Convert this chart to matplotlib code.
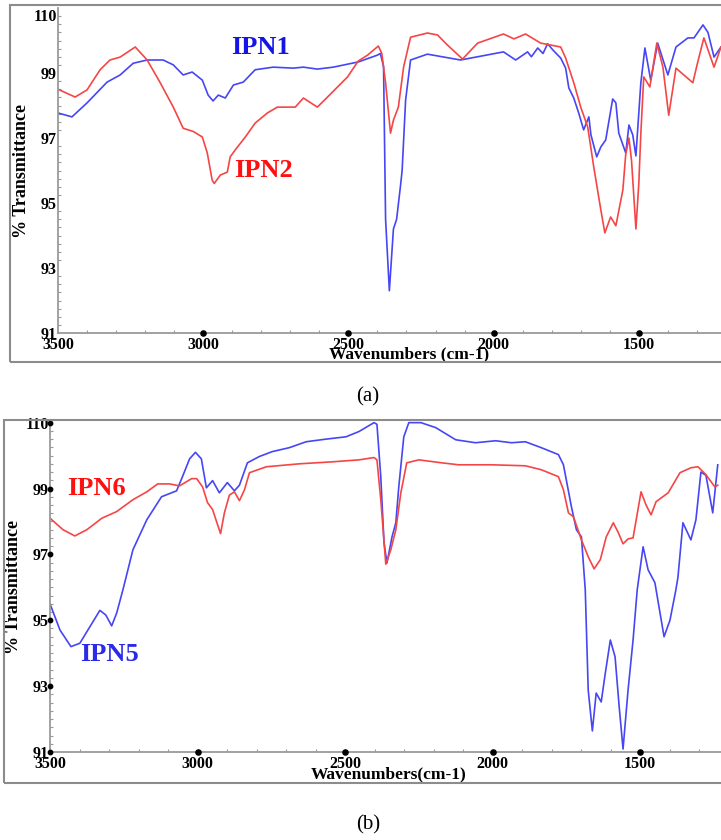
import numpy as np
import matplotlib.pyplot as plt
from matplotlib.patches import Rectangle

# panel (a): IPN1 (blue) and IPN2 (red)
wn_ipn1 = [3500, 3452, 3400, 3331, 3286, 3241, 3193, 3138, 3103, 3069, 3038, 3003, 2983, 2966,
           2948, 2924, 2896, 2862, 2821, 2759, 2690, 2655, 2607, 2552, 2466, 2400, 2390, 2379,
           2372, 2359, 2345, 2334, 2321, 2315, 2303, 2286, 2228, 2114, 1966, 1924, 1883, 1870,
           1848, 1830, 1814, 1795, 1769, 1752, 1741, 1724, 1707, 1690, 1672, 1665, 1645, 1631,
           1614, 1590, 1579, 1569, 1545, 1534, 1521, 1510, 1493, 1479, 1459, 1435, 1400, 1372,
           1331, 1310, 1279, 1262, 1241, 1217]
tr_ipn1 = [97.77, 97.65, 98.08, 98.72, 98.94, 99.3, 99.4, 99.4, 99.25, 98.94, 99.03, 98.78, 98.32, 98.14,
           98.32, 98.23, 98.63, 98.72, 99.1, 99.18, 99.15, 99.18, 99.12, 99.18, 99.34, 99.55, 99.6, 99.2,
           94.5, 92.3, 94.2, 94.5, 95.5, 96.0, 98.17, 99.4, 99.58, 99.4, 99.65, 99.4, 99.65, 99.5,
           99.77, 99.6, 99.9, 99.7, 99.46, 99.15, 98.54, 98.23, 97.77, 97.25, 97.65, 97.1, 96.42, 96.72,
           96.94, 98.2, 98.08, 97.15, 96.54, 97.4, 97.1, 96.45, 98.7, 99.77, 98.78, 99.92, 98.94, 99.8,
           100.08, 100.08, 100.48, 100.25, 99.49, 99.8]

wn_ipn2 = [3500, 3441, 3400, 3355, 3321, 3286, 3234, 3193, 3148, 3103, 3069, 3034, 3003, 2986,
           2969, 2962, 2941, 2917, 2907, 2890, 2855, 2821, 2779, 2745, 2683, 2655, 2607, 2572,
           2503, 2466, 2434, 2397, 2385, 2372, 2355, 2345, 2328, 2310, 2286, 2228, 2193, 2159,
           2107, 2055, 1966, 1930, 1890, 1838, 1769, 1752, 1724, 1700, 1676, 1655, 1631, 1617,
           1597, 1579, 1555, 1545, 1534, 1525, 1510, 1500, 1493, 1483, 1462, 1438, 1417, 1397,
           1372, 1345, 1314, 1297, 1276, 1241, 1217]
tr_ipn2 = [98.5, 98.26, 98.48, 99.1, 99.4, 99.49, 99.8, 99.4, 98.7, 97.95, 97.3, 97.2, 97.03, 96.54,
           95.7, 95.6, 95.86, 95.95, 96.42, 96.63, 97.03, 97.46, 97.77, 97.95, 97.95, 98.23, 97.95, 98.26,
           98.88, 99.37, 99.55, 99.83, 99.6, 98.7, 97.15, 97.55, 97.95, 99.18, 100.1, 100.23, 100.17, 99.86,
           99.43, 99.92, 100.2, 100.05, 100.2, 99.92, 99.8, 99.46, 98.7, 97.95, 97.34, 96.1, 94.8, 94.08,
           94.57, 94.3, 95.4, 96.5, 97.0, 96.3, 94.2, 95.6, 97.15, 98.88, 98.57, 99.92, 99.18, 97.7,
           99.15, 98.94, 98.7, 99.34, 100.08, 99.18, 99.8]

# panel (b): IPN5 (blue) and IPN6 (red)
wn_ipn5 = [3500, 3466, 3429, 3399, 3365, 3331, 3311, 3291, 3274, 3253, 3219, 3172, 3122, 3071,
           3051, 3027, 3007, 2987, 2970, 2949, 2926, 2899, 2875, 2858, 2831, 2791, 2747, 2689,
           2632, 2564, 2497, 2453, 2402, 2392, 2379, 2368, 2358, 2341, 2328, 2318, 2301, 2284,
           2243, 2193, 2125, 2058, 1990, 1936, 1889, 1835, 1777, 1760, 1733, 1716, 1699, 1686,
           1676, 1662, 1649, 1632, 1618, 1601, 1585, 1571, 1558, 1541, 1524, 1510, 1490, 1473,
           1450, 1419, 1399, 1379, 1372, 1355, 1328, 1311, 1294, 1277, 1254, 1237]
tr_ipn5 = [95.5, 94.7, 94.2, 94.3, 94.8, 95.3, 95.16, 94.83, 95.22, 95.92, 97.14, 98.05, 98.75, 98.93,
           99.36, 99.9, 100.1, 99.9, 99.02, 99.24, 98.87, 99.18, 98.93, 99.1, 99.78, 99.97, 100.12, 100.24,
           100.42, 100.5, 100.57, 100.73, 101.0, 100.95, 99.36, 97.35, 96.74, 97.53, 97.96, 99.05, 100.57, 101.0,
           101.0, 100.85, 100.48, 100.39, 100.45, 100.39, 100.42, 100.24, 100.03, 99.72, 98.45, 97.75, 97.53, 95.92,
           92.88, 91.64, 92.79, 92.52, 93.4, 94.4, 93.89, 92.37, 91.09, 92.88, 94.4, 95.92, 97.23, 96.53,
           96.14, 94.5, 95.0, 95.92, 96.3, 97.96, 97.44, 98.05, 99.5, 99.4, 98.26, 99.72]

wn_ipn6 = [3500, 3456, 3416, 3375, 3324, 3274, 3219, 3172, 3135, 3095, 3061, 3020, 3003, 2983,
           2966, 2949, 2922, 2909, 2892, 2875, 2858, 2841, 2824, 2767, 2655, 2544, 2453, 2402,
           2392, 2379, 2362, 2345, 2328, 2311, 2291, 2250, 2172, 2115, 2003, 1889, 1835, 1777,
           1760, 1743, 1726, 1699, 1676, 1656, 1635, 1615, 1591, 1574, 1558, 1541, 1524, 1497,
           1480, 1463, 1446, 1405, 1365, 1328, 1304, 1277, 1247, 1237]
tr_ipn6 = [98.1, 97.75, 97.56, 97.75, 98.1, 98.3, 98.66, 98.9, 99.14, 99.14, 99.08, 99.3, 99.3, 99.05,
           98.57, 98.36, 97.63, 98.26, 98.8, 98.9, 98.63, 98.96, 99.48, 99.66, 99.75, 99.81, 99.87, 99.94,
           99.87, 98.66, 96.7, 97.14, 97.75, 98.87, 99.78, 99.87, 99.78, 99.72, 99.72, 99.69, 99.57, 99.36,
           98.96, 98.26, 98.14, 97.44, 96.93, 96.56, 96.84, 97.53, 97.96, 97.66, 97.32, 97.47, 97.5, 98.9,
           98.5, 98.2, 98.6, 98.87, 99.48, 99.63, 99.66, 99.42, 99.05, 99.1]

x_ticks = [3500, 3000, 2500, 2000, 1500]
y_ticks = [91, 93, 95, 97, 99]
y_labels = ['91', '93', '95', '97', '99']

blue = '#4646f5'
red = '#f54646'
serif = ['Liberation Serif', 'DejaVu Serif']

fig = plt.figure(figsize=(7.21, 8.40), dpi=100)

def px(x0, y0, x1, y1):
    # figure rect from pixel box
    return [x0 / 721, 1 - y1 / 840, (x1 - x0) / 721, (y1 - y0) / 840]

def setup(ax, xlim, ytop, top_pos, dots_y, xlabel):
    ax.set_xlim(*xlim)
    ax.set_ylim(91, ytop)
    for s in ['top', 'right']:
        ax.spines[s].set_visible(False)
    for s in ['left', 'bottom']:
        ax.spines[s].set_color('#9a9a9a')
        ax.spines[s].set_linewidth(1.3)
    ax.set_xticks(x_ticks)
    ax.set_xticks(np.arange(1300, 3500, 100), minor=True)
    ax.set_yticks(y_ticks + [top_pos])
    ax.set_yticks(np.arange(91, top_pos, 0.25), minor=True)
    ax.set_yticklabels(y_labels + ['110'])
    ax.tick_params(which='major', length=0, labelsize=11.5)
    ax.tick_params(axis='y', which='major', pad=1)
    ax.tick_params(axis='x', which='major', pad=3)
    ax.tick_params(which='minor', length=2, color='#9a9a9a', width=0.8, direction='in')
    for lab in ax.get_xticklabels() + ax.get_yticklabels():
        lab.set_fontfamily(serif)
        lab.set_fontweight('bold')
    ax.scatter(x_ticks[1:], [91] * 4, s=14, color='black', clip_on=False, zorder=5)
    if dots_y:
        ax.scatter([3500] * 6, y_ticks + [top_pos], s=10, color='black', clip_on=False, zorder=5)
    ax.set_xlabel(xlabel, fontfamily=serif, fontweight='bold', fontsize=12.5)
    ax.set_ylabel('% Transmittance', fontfamily=serif, fontweight='bold', fontsize=13, labelpad=2)

# outer frames
fig.add_artist(Rectangle((10 / 721, 1 - 362 / 840), 720 / 721, 357 / 840, transform=fig.transFigure,
                         fill=False, edgecolor='#8c8c8c', linewidth=1.5))
fig.add_artist(Rectangle((4 / 721, 1 - 783 / 840), 720 / 721, 363 / 840, transform=fig.transFigure,
                         fill=False, edgecolor='#8c8c8c', linewidth=1.5))

ax1 = fig.add_axes(px(58, 8, 721, 333))
ax1.plot(wn_ipn1, tr_ipn1, color=blue, lw=1.2)
ax1.plot(wn_ipn2, tr_ipn2, color=red, lw=1.2)
setup(ax1, (3500, 1217), 101.0, 100.8, False, 'Wavenumbers (cm-1)')
ax1.xaxis.set_label_coords(0.53, -0.041)
ax1.text(2803, 99.8, 'IPN1', color='#1414e6', fontfamily=serif, fontweight='bold', fontsize=19,
         ha='center', va='center')
ax1.text(2793, 96.0, 'IPN2', color='#ff1010', fontfamily=serif, fontweight='bold', fontsize=19,
         ha='center', va='center')

ax2 = fig.add_axes(px(50, 421, 721, 752))
ax2.plot(wn_ipn5, tr_ipn5, color=blue, lw=1.2)
ax2.plot(wn_ipn6, tr_ipn6, color=red, lw=1.2)
setup(ax2, (3500, 1226), 101.05, 101.0, True, 'Wavenumbers(cm-1)')
ax2.xaxis.set_label_coords(0.505, -0.042)
ax2.text(3341, 99.0, 'IPN6', color='#ff1010', fontfamily=serif, fontweight='bold', fontsize=19,
         ha='center', va='center')
ax2.text(3297, 93.95, 'IPN5', color='#2a2ae8', fontfamily=serif, fontweight='bold', fontsize=19,
         ha='center', va='center')

fig.text(368 / 721, 1 - 397 / 840, '(a)', fontfamily=serif, fontsize=15, ha='center', va='center')
fig.text(368 / 721, 1 - 825 / 840, '(b)', fontfamily=serif, fontsize=15, ha='center', va='center')

fig.savefig('out.png', dpi=100)
